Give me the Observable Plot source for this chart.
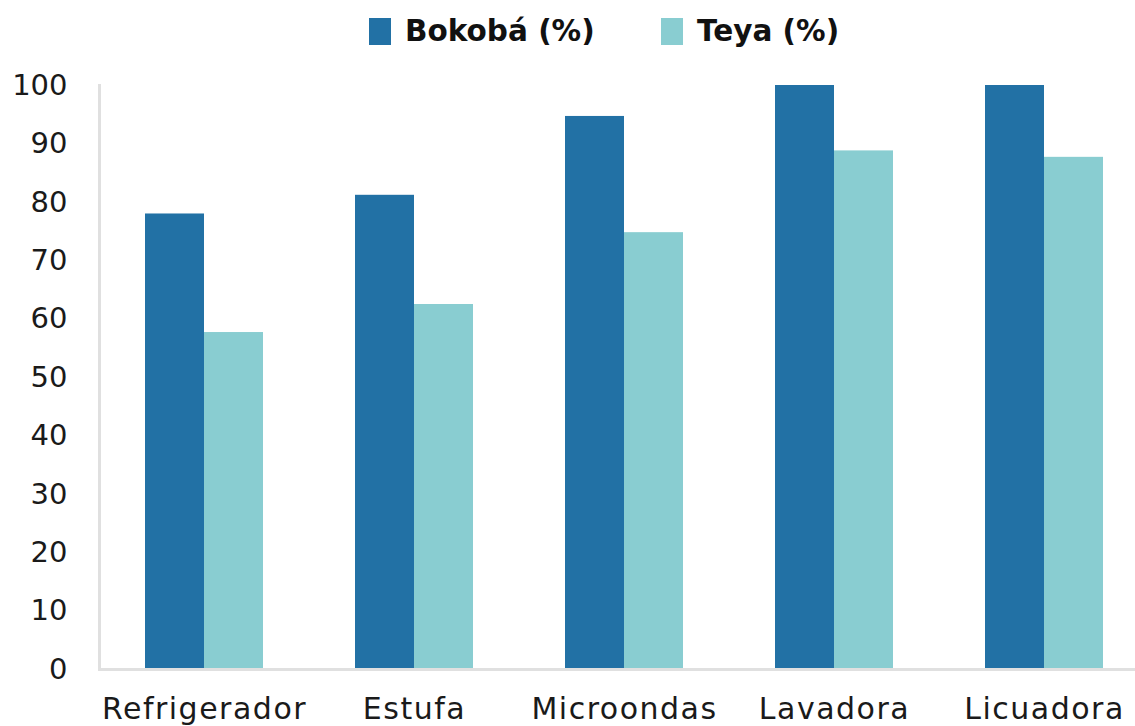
<!DOCTYPE html>
<html>
<head>
<meta charset="utf-8">
<script src="https://cdn.jsdelivr.net/npm/d3@7"></script>
<script src="https://cdn.jsdelivr.net/npm/@observablehq/plot@0.6"></script>
<style>
  html, body { margin: 0; padding: 0; background: #fff; overflow: hidden; width: 1135px; height: 726px; }
  #legend { height: 60px; position: relative; font-family: "DejaVu Sans", sans-serif; font-weight: bold; font-size: 29.5px; color: #111; }
  .item { position: absolute; top: 14px; display: flex; align-items: center; }
  .sw { width: 22px; height: 27px; margin-right: 14px; }
  #chart svg { display: block; max-width: none !important; }
  .fxlab text { letter-spacing: 1.5px; }
</style>
</head>
<body>
<div id="legend"></div>
<div id="chart"></div>
<script>
const categories = ["Refrigerador", "Estufa", "Microondas", "Lavadora", "Licuadora"];
const series = ["Bokobá (%)", "Teya (%)"];
const bokoba = [78, 81.2, 94.7, 100, 100];
const teya = [57.7, 62.5, 74.8, 88.8, 87.7];
const yTicks = [0, 10, 20, 30, 40, 50, 60, 70, 80, 90, 100];
const colors = ["#2271a5", "#89cdd1"];

const data = [];
categories.forEach((c, i) => {
  data.push({category: c, series: series[0], value: bokoba[i]});
  data.push({category: c, series: series[1], value: teya[i]});
});

// Legend
const legend = document.getElementById("legend");
const lx = [369, 661];
series.forEach((s, i) => {
  const it = document.createElement("div");
  it.className = "item";
  it.style.left = lx[i] + "px";
  it.innerHTML = `<div class="sw" style="background:${colors[i]}"></div><span>${s}</span>`;
  legend.appendChild(it);
});

const chart = Plot.plot({
  width: 1160,
  height: 666,
  marginLeft: 99,
  marginRight: 11,
  marginTop: 25,
  marginBottom: 57,
  style: {fontFamily: "DejaVu Sans, sans-serif", fontSize: "29px", color: "#1a1a1a", overflow: "visible"},
  fx: {domain: categories, padding: 0, label: null},
  x: {domain: series, paddingInner: 0, paddingOuter: 0.7647, axis: null},
  y: {domain: [0, 100], ticks: yTicks, label: null},
  color: {domain: series, range: colors},
  marks: [
    Plot.barY(data, {fx: "category", x: "series", y: "value", fill: "series", inset: 0}),
    Plot.frame({anchor: "bottom", stroke: "#e0e0e0", strokeWidth: 3}),
    Plot.frame({anchor: "left", facetAnchor: "left", stroke: "#e0e0e0", strokeWidth: 3}),
    Plot.axisY({ticks: yTicks, tickSize: 0, tickPadding: 32, tickFormat: d => d, label: null, fontSize: 29}),
    Plot.axisFx({anchor: "bottom", tickSize: 0, tickPadding: 28, label: null, fontSize: 30, className: "fxlab"})
  ]
});
document.getElementById("chart").appendChild(chart);
</script>
</body>
</html>
